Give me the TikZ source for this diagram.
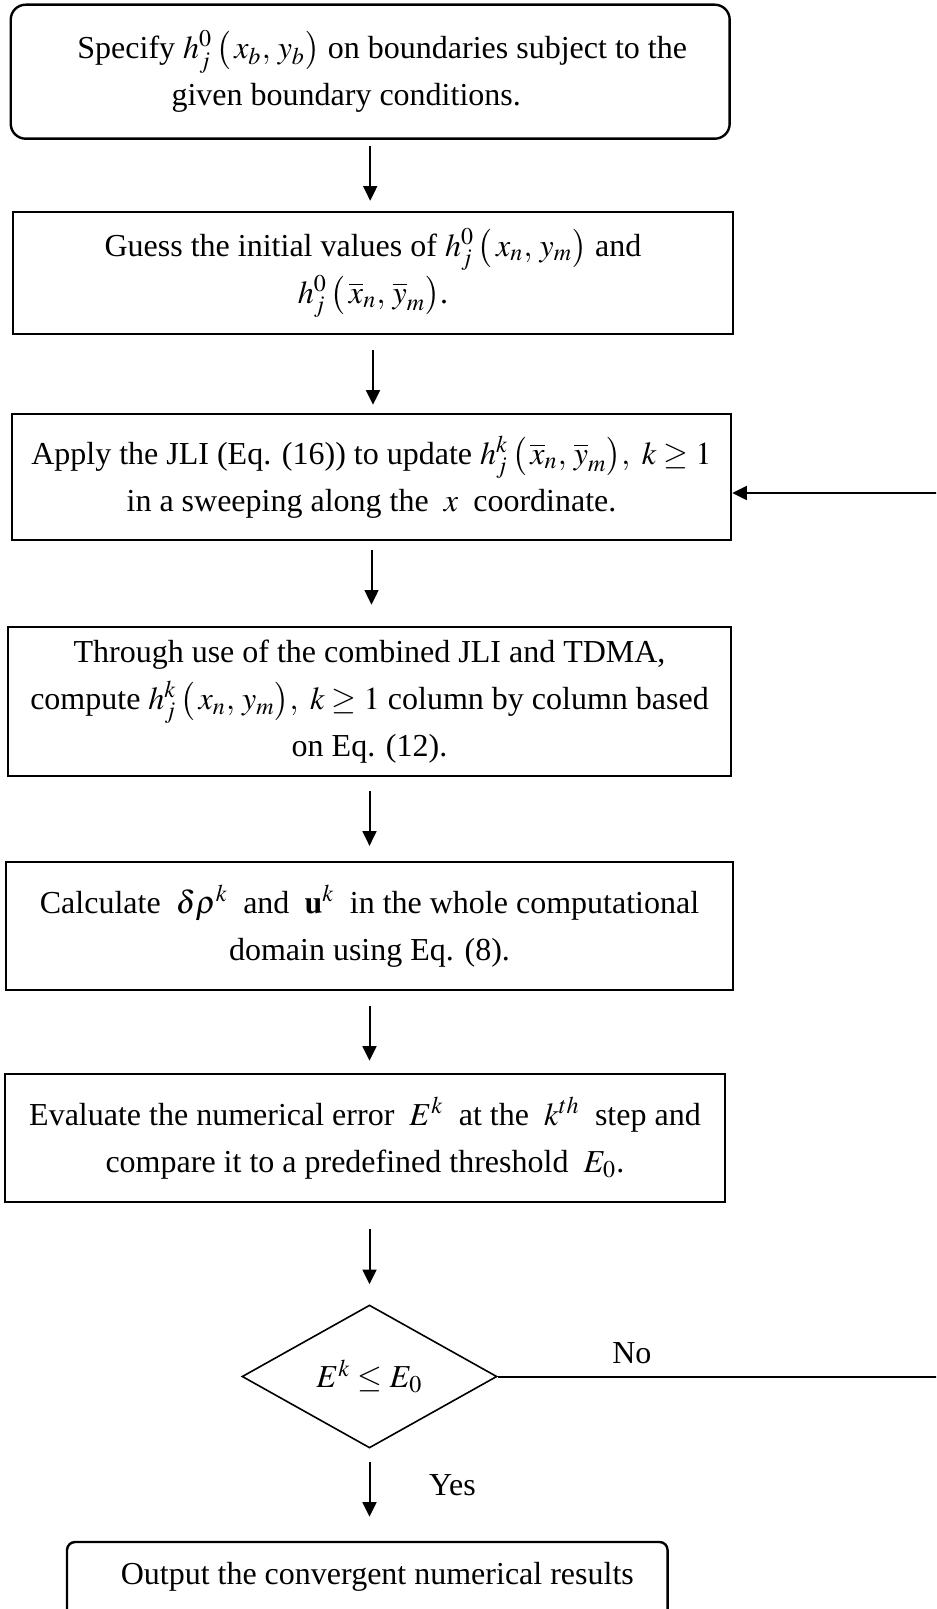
\documentclass[tikz,border=0pt]{standalone}
\usepackage{mathptmx}
\usepackage{fontspec}
\setmainfont{Liberation Serif}
\usetikzlibrary{arrows.meta, shapes.geometric}
\tikzset{->, % every connector gets a head
>={Triangle[length=5.5pt,width=5.2pt]}, % filled heads as in the scheme
x=0.375pt, y=-0.375pt, % one unit is one pixel of the scheme, y runs down
every node/.style={font=\fontsize{12}{17.6}\selectfont},
procbox/.style={draw, line width=0.9pt, align=center, inner sep=2pt}, % plain steps
termbox/.style={procbox, rounded corners=5.6pt}, % first step
endbox/.style={draw, line width=0.9pt, rounded corners=3pt, inner sep=2pt}, % last step
decision/.style={diamond, draw, line width=0.6pt, inner sep=0pt, minimum width=95.6pt, minimum height=53.6pt},
flow/.style={line width=0.75pt},
}

\begin{document}
\begin{tikzpicture}
    \useasboundingbox (0,0) rectangle (936,1609);
    \clip (0,0) rectangle (936,1609);
    \node[termbox, minimum width=269.6pt, minimum height=50.25pt] (spec) at (370.2,71.7)
        {\hspace*{9pt}Specify $h_j^0\,\bigl(\,x_b,\, y_b\bigr)$ on boundaries subject to the\\ given boundary conditions.\hspace*{18pt}};
    \node[procbox, minimum width=270pt, minimum height=45.75pt] (guess) at (373,273)
        {Guess the initial values of $h_j^0\,\bigl(\,x_n,\, y_m\bigr)$ and\\ $h_j^0\,\bigl(\,\overline{x}_n,\, \overline{y}_m\bigr)$.};
    \node[procbox, minimum width=269.6pt, minimum height=47.25pt] (jli) at (371.5,477)
        {Apply the JLI (Eq. (16)) to update $h_j^k\,\bigl(\,\overline{x}_n,\, \overline{y}_m\bigr),\ k\geq 1$\\ in a sweeping along the $\;x\;$ coordinate.};
    \node[procbox, minimum width=271.1pt, minimum height=55.9pt] (tdma) at (369.5,701.5)
        {Through use of the combined JLI and TDMA,\\ compute $h_j^k\,\bigl(\,x_n,\, y_m\bigr),\ k\geq 1$ column by column based\\ on Eq. (12).};
    \node[procbox, minimum width=272.6pt, minimum height=48pt] (field) at (369.5,926)
        {Calculate $\;\delta\rho^k\;$ and $\;\mathbf{u}^k\;$ in the whole computational\\ domain using Eq. (8).};
    \node[procbox, minimum width=270pt, minimum height=48pt] (err) at (365,1138)
        {Evaluate the numerical error $\;E^k\;$ at the $\;k^{th}\;$ step and\\ compare it to a predefined threshold $\;E_0$.};
    \node[decision] (check) at (369.5,1376.5) {$E^k \leq E_0$};
    \node[endbox, minimum width=225.2pt, text height=8.3pt, text depth=30pt, inner ysep=7.45pt, anchor=base] (out) at (367.3,1584)
        {\hspace*{7.5pt}Output the convergent numerical results};
    \coordinate (rt) at (960,493);

    \draw[flow, shorten <=2.25pt, shorten >=3.75pt] (spec.south) -- (spec.south |- guess.north);
    \draw[flow, shorten <=5.6pt, shorten >=3pt] (guess.south) -- (guess.south |- jli.north);
    \draw[flow, shorten <=3.4pt, shorten >=7.9pt] (jli.south) -- (jli.south |- tdma.north);
    \draw[flow, shorten <=5.25pt, shorten >=5.6pt] (tdma.south) -- (tdma.south |- field.north);
    \draw[flow, shorten <=5.6pt, shorten >=4.5pt] (field.south) -- (field.south |- err.north);
    \draw[flow, shorten <=9.75pt, shorten >=7.5pt] (err.south -| check) -- (check.north);
    \draw[flow, shorten <=4.9pt, shorten >=9pt] (check.south) -- node[pos=.4, right=22pt, inner sep=0pt] {Yes} (check.south |- out.north);
    \draw[flow] (check.east) -- node[pos=.29, above, inner sep=4.5pt] {No} (check.east -| rt) -- (rt) -- (jli.east |- rt);
\end{tikzpicture}
\end{document}
